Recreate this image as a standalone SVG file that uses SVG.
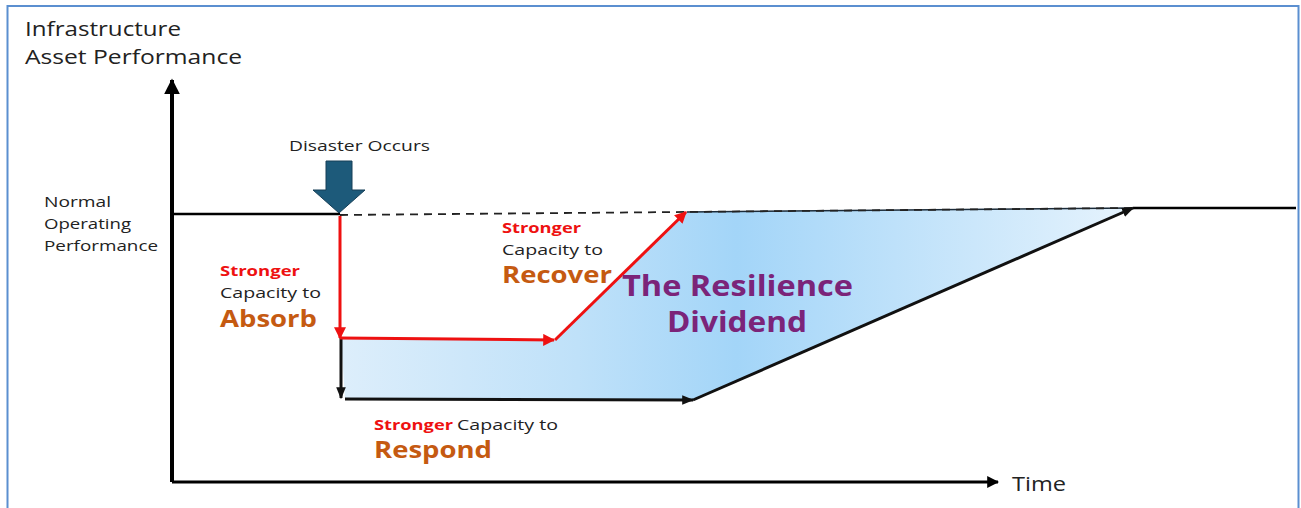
<svg xmlns="http://www.w3.org/2000/svg" width="1301" height="508" viewBox="0 0 1301 508">
<defs>
<linearGradient id="blueFill" x1="340" y1="0" x2="1133" y2="0" gradientUnits="userSpaceOnUse">
<stop offset="0" stop-color="#ddeefb"/>
<stop offset="0.3" stop-color="#bfe1f9"/>
<stop offset="0.5" stop-color="#a3d5f8"/>
<stop offset="1" stop-color="#e6f3fd"/>
</linearGradient>
<marker id="blk" viewBox="0 0 10 10" refX="9" refY="5" markerWidth="4" markerHeight="4" orient="auto" markerUnits="strokeWidth">
<path d="M0,0 L10,5 L0,10 z" fill="#000"/>
</marker>
<marker id="blkS" viewBox="0 0 10 10" refX="9" refY="5" markerWidth="4" markerHeight="4" orient="auto" markerUnits="strokeWidth">
<path d="M0,1 L10,5 L0,9 z" fill="#111"/>
</marker>
<marker id="red" viewBox="0 0 10 10" refX="9" refY="5" markerWidth="4" markerHeight="4" orient="auto" markerUnits="strokeWidth">
<path d="M0,0 L10,5 L0,10 z" fill="#ee1111"/>
</marker>
<style>
.t{font-family:"Open Sans","Liberation Sans",sans-serif;fill:#222}
.s{font-size:15px}
.red{font-family:"Open Sans","Liberation Sans",sans-serif;font-weight:bold;fill:#ee1111;font-size:15px}
.big{font-family:"Open Sans","Liberation Sans",sans-serif;font-weight:bold;fill:#c55a11;font-size:23px}
.pur{font-family:"Open Sans","Liberation Sans",sans-serif;font-weight:bold;fill:#7b2479;font-size:28px}
</style>
</defs>
<rect x="0" y="0" width="1301" height="508" fill="#fff"/>
<rect x="7.5" y="6" width="1291" height="520" fill="none" stroke="#5b8fd0" stroke-width="2"/>

<g id="dividend">
<polygon points="341,338 555,340 687,212 1133,208 693,400 345,399" fill="url(#blueFill)"/>
<line x1="687" y1="212" x2="1133" y2="208" stroke="#1a2b3a" stroke-width="1.5"/>
</g>

<g id="connectors" fill="none">
<line x1="172" y1="482" x2="172" y2="80" stroke="#000" stroke-width="4" marker-end="url(#blk)"/>
<line x1="172" y1="482" x2="998" y2="482" stroke="#000" stroke-width="3" marker-end="url(#blk)"/>
<line x1="172" y1="214" x2="340" y2="214" stroke="#000" stroke-width="2.5"/>
<line x1="340" y1="215" x2="1133" y2="208" stroke="#222" stroke-width="1.8" stroke-dasharray="8,6"/>
<line x1="1133" y1="208" x2="1296" y2="208" stroke="#000" stroke-width="2.5"/>
<line x1="341" y1="338" x2="341" y2="398" stroke="#111" stroke-width="3" marker-end="url(#blkS)"/>
<line x1="345" y1="399" x2="693" y2="400" stroke="#111" stroke-width="3" marker-end="url(#blkS)"/>
<line x1="693" y1="400" x2="1133" y2="208" stroke="#111" stroke-width="3" marker-end="url(#blkS)"/>
<line x1="340" y1="216" x2="340" y2="338" stroke="#ee1111" stroke-width="3" marker-end="url(#red)"/>
<line x1="340" y1="338" x2="554" y2="340" stroke="#ee1111" stroke-width="3" marker-end="url(#red)"/>
<line x1="555" y1="340" x2="686" y2="212" stroke="#ee1111" stroke-width="3" marker-end="url(#red)"/>
</g>

<g id="disaster">
<polygon points="326,161 352,161 352,190 365,190 339,213 313,190 326,190" fill="#1d5a7a" stroke="#163f57" stroke-width="1"/>
<text class="t s" x="289" y="151" textLength="141" lengthAdjust="spacingAndGlyphs">Disaster Occurs</text>
</g>

<g id="y-axis-label">
<text class="t" x="25" y="36" font-size="20" textLength="156" lengthAdjust="spacingAndGlyphs">Infrastructure</text>
<text class="t" x="25" y="64" font-size="20" textLength="217" lengthAdjust="spacingAndGlyphs">Asset Performance</text>
</g>

<g id="normal-label">
<text class="t s" x="44" y="207" textLength="67" lengthAdjust="spacingAndGlyphs">Normal</text>
<text class="t s" x="44" y="229" textLength="87" lengthAdjust="spacingAndGlyphs">Operating</text>
<text class="t s" x="44" y="251" textLength="114" lengthAdjust="spacingAndGlyphs">Performance</text>
</g>

<g id="absorb">
<text class="red" x="220" y="276" textLength="80" lengthAdjust="spacingAndGlyphs">Stronger</text>
<text class="t s" x="220" y="298" textLength="101" lengthAdjust="spacingAndGlyphs">Capacity to</text>
<text class="big" x="220" y="327" textLength="97" lengthAdjust="spacingAndGlyphs">Absorb</text>
</g>

<g id="recover">
<text class="red" x="502" y="233" textLength="79" lengthAdjust="spacingAndGlyphs">Stronger</text>
<text class="t s" x="502" y="255" textLength="101" lengthAdjust="spacingAndGlyphs">Capacity to</text>
<text class="big" x="502" y="283" textLength="110" lengthAdjust="spacingAndGlyphs">Recover</text>
</g>

<g id="respond">
<text class="red" x="374" y="430" textLength="79" lengthAdjust="spacingAndGlyphs">Stronger</text>
<text class="t s" x="457" y="430" textLength="101" lengthAdjust="spacingAndGlyphs">Capacity to</text>
<text class="big" x="374" y="458" textLength="118" lengthAdjust="spacingAndGlyphs">Respond</text>
</g>

<g id="resilience">
<text class="pur" x="622" y="296" textLength="231" lengthAdjust="spacingAndGlyphs">The Resilience</text>
<text class="pur" x="667" y="332" textLength="140" lengthAdjust="spacingAndGlyphs">Dividend</text>
</g>

<g id="time">
<text class="t" x="1012" y="491" font-size="20" textLength="54" lengthAdjust="spacingAndGlyphs">Time</text>
</g>
</svg>
